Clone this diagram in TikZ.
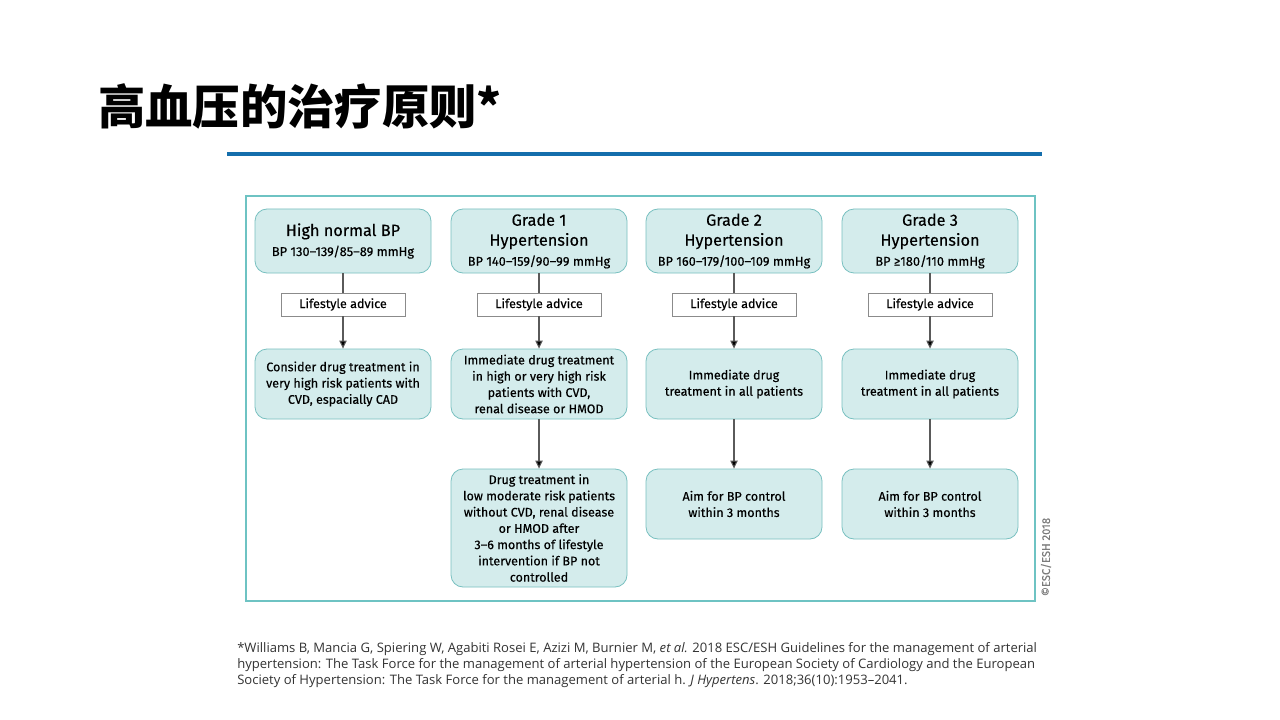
\documentclass[tikz,border=0pt]{standalone}
\usepackage{fontspec}
\setmainfont{Fira Sans}[FakeBold=0.3]
\newfontfamily\cjk{Noto Sans CJK SC}
\newfontfamily\notefont{Open Sans}
\usetikzlibrary{arrows.meta,positioning}
\definecolor{frameteal}{RGB}{110,195,195}
\definecolor{boxfill}{RGB}{212,236,236}
\definecolor{boxline}{RGB}{120,192,192}
\definecolor{titleblue}{RGB}{20,110,172}
\definecolor{linegray}{RGB}{90,90,90}
\tikzset{
  gradebox/.style = {draw=boxline, fill=boxfill, rounded corners=9pt, line width=0.6pt,
    minimum width=132pt, minimum height=48pt, align=center, inner sep=2pt,
    font=\fontsize{12.2}{15}\selectfont},
  treatbox/.style = {gradebox, minimum height=52.5pt, font=\fontsize{9.4}{12.2}\selectfont},
  advicebox/.style = {draw=linegray!70, fill=white, line width=0.6pt, minimum width=93pt,
    minimum height=17.25pt, inner sep=1pt, font=\fontsize{9.4}{11}\selectfont},
  flow/.style = {draw=linegray, line width=0.8pt},
  flowarrow/.style = {flow, -{Triangle[length=6pt,width=5.5pt,fill=black]}}
}
% small line of the grade boxes
\newcommand{\gsmall}[1]{{\fontsize{9.6}{12}\selectfont #1}}
\begin{document}
\begin{tikzpicture}[x=0.75pt, y=-0.75pt]
\useasboundingbox (0,0) rectangle (1280,720);
\fill[white] (0,0) rectangle (1280,720);

% title and rule
\node[anchor=west, inner sep=0pt, font=\cjk\bfseries\fontsize{35.5}{40}\selectfont] (title) at (98,106) {高血压的治疗原则*};
\draw[titleblue, line width=2.4pt] (227,154) -- (1042,154);

% frame
\draw[frameteal, line width=1.6pt] (246,196) rectangle (1035,601);

% grades
\node[gradebox] (hn) at (343,241) {High normal BP\\\gsmall{BP 130–139/85–89 mmHg}};
\node[gradebox] (g1) at (539,241) {Grade 1\\Hypertension\\\gsmall{BP 140–159/90–99 mmHg}};
\node[gradebox] (g2) at (734,241) {Grade 2\\Hypertension\\\gsmall{BP 160–179/100–109 mmHg}};
\node[gradebox] (g3) at (930,241) {Grade 3\\Hypertension\\\gsmall{BP ≥180/110 mmHg}};

% lifestyle advice
\foreach \g in {hn,g1,g2,g3}
  \node[advicebox] (la-\g) at (\g |- 0,304.5) {Lifestyle advice};

% first step of treatment
\node[treatbox] (dt-hn) at (343,384) {Consider drug treatment in\\very high risk patients with\\CVD, espacially CAD};
\node[treatbox] (dt-g1) at (539,384) {Immediate drug treatment\\in high or very high risk\\patients with CVD,\\renal disease or HMOD};
\node[treatbox] (dt-g2) at (734,384) {Immediate drug\\treatment in all patients};
\node[treatbox] (dt-g3) at (930,384) {Immediate drug\\treatment in all patients};

% second step
\node[treatbox, minimum height=88.5pt] (lt-g1) at (539,528) {Drug treatment in\\low moderate risk patients\\without CVD, renal disease\\or HMOD after\\3–6 months of lifestyle\\intervention if BP not\\controlled};
\node[treatbox] (lt-g2) at (734,504) {Aim for BP control\\within 3 months};
\node[treatbox] (lt-g3) at (930,504) {Aim for BP control\\within 3 months};

% connectors
\foreach \g in {hn,g1,g2,g3} {
  \draw[flow] (\g) -- (la-\g);
  \draw[flowarrow] (la-\g) -- (dt-\g);
}
\foreach \g in {g1,g2,g3}
  \draw[flowarrow] (dt-\g) -- (lt-\g.north);

\node[rotate=90, text=linegray!80, font=\fontsize{8.4}{9}\selectfont, inner sep=0pt] (copy) at (1046,557) {©ESC/ESH 2018};

% reference
\node[anchor=north west, align=left, inner sep=0pt, text=black!80,
  font=\notefont\fontsize{9.8}{12}\selectfont] (ref) at (237,642)
  {*Williams B, Mancia G, Spiering W, Agabiti Rosei E, Azizi M, Burnier M, \textit{et al.} 2018 ESC/ESH Guidelines for the management of arterial\\
   hypertension: The Task Force for the management of arterial hypertension of the European Society of Cardiology and the European\\
   Society of Hypertension: The Task Force for the management of arterial h. \textit{J Hypertens}. 2018;36(10):1953–2041.};
\end{tikzpicture}
\end{document}
